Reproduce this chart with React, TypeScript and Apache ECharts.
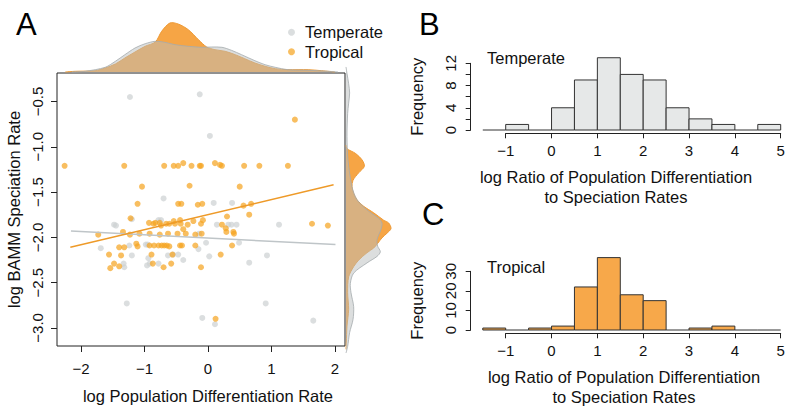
import React, { useEffect, useRef } from 'react';
import * as echarts from 'echarts';

const FONT = "'Liberation Sans', Arial, Helvetica, sans-serif";

// Panel A scatter points [log pop. diff. rate, log BAMM speciation rate]
const temperatePoints: number[][] = [
  [-1.23, -0.45], [-0.13, -0.42], [0.03, -0.88], [-0.70, -1.57], [0.09, -1.62], [0.38, -1.62],
  [-1.48, -1.86], [-1.45, -1.87], [-0.78, -1.81], [-0.74, -1.81], [0.14, -1.86], [0.32, -1.86],
  [0.37, -1.86], [0.45, -1.86], [1.12, -1.86], [-0.14, -1.96], [-1.20, -1.80], [-1.69, -2.12],
  [-1.24, -2.09], [-0.98, -2.08], [-0.95, -2.08], [-1.20, -2.20], [-0.94, -2.23], [-0.63, -2.20],
  [-0.55, -2.19], [-0.47, -2.19], [-0.39, -2.25], [-0.15, -2.13], [-1.33, -2.29], [-1.32, -2.33],
  [-0.96, -2.31], [-0.92, -2.29], [-0.78, -2.29], [-0.03, -2.06], [0.49, -2.06], [0.02, -2.21],
  [0.93, -2.20], [0.65, -2.28], [-1.28, -2.73], [0.91, -2.73], [-0.09, -2.89], [0.11, -2.96],
  [1.66, -2.92],
];

const tropicalPoints: number[][] = [
  [-2.26, -1.21], [-1.32, -1.21], [-0.69, -1.21], [-0.54, -1.21], [-0.47, -1.21], [-0.39, -1.18],
  [-0.26, -1.21], [-0.13, -1.21], [-0.11, -1.21], [0.11, -1.18], [0.19, -1.20], [0.22, -1.21],
  [0.57, -1.21], [0.81, -1.21], [1.26, -1.21], [1.37, -0.70], [-1.04, -1.44], [-0.29, -1.43],
  [0.50, -1.44], [-1.11, -1.63], [-0.47, -1.63], [-0.42, -1.63], [-0.16, -1.64], [-0.09, -1.63],
  [0.56, -1.65], [0.68, -1.63], [0.65, -1.75], [0.30, -1.77], [-1.22, -1.79], [-0.93, -1.84],
  [-0.86, -1.85], [-0.83, -1.84], [-0.76, -1.84], [-0.74, -1.87], [-0.66, -1.85], [-0.61, -1.85],
  [-0.54, -1.82], [-0.52, -1.85], [-0.44, -1.81], [-0.43, -1.85], [-0.32, -1.86], [-0.23, -1.82],
  [-0.11, -1.85], [-0.08, -1.81], [0.22, -1.86], [0.28, -1.90], [0.29, -1.94], [0.40, -1.94],
  [0.41, -1.96], [1.64, -1.85], [1.89, -1.87], [-0.39, -1.91], [-1.34, -1.94], [-1.73, -1.97],
  [-1.23, -1.97], [-1.08, -1.96], [-0.92, -1.96], [-0.76, -1.97], [-0.63, -1.96], [-0.48, -1.96],
  [-0.35, -1.96], [-0.20, -1.97], [-0.10, -1.96], [-1.13, -2.07], [-1.11, -2.10], [-1.40, -2.11],
  [-1.32, -2.11], [-0.92, -2.09], [-0.85, -2.09], [-0.78, -2.09], [-0.73, -2.09], [-0.69, -2.09],
  [-0.65, -2.09], [-0.61, -2.10], [-0.44, -2.09], [-0.41, -2.09], [-0.20, -2.09], [0.38, -2.09],
  [-1.56, -2.19], [-1.37, -2.20], [-0.89, -2.19], [-0.56, -2.19], [0.20, -2.19], [-1.48, -2.29],
  [-1.40, -2.32], [-1.54, -2.34], [-0.87, -2.29], [-0.70, -2.33], [-0.58, -2.29], [-0.11, -2.33],
  [0.12, -2.90],
];

// Fitted regression lines (end points)
const temperateFit: number[][] = [[-2.16, -1.93], [2.01, -2.08]];
const tropicalFit: number[][] = [[-2.17, -2.11], [1.98, -1.42]];

// Top marginal densities (x positions and relative density)
const topTropX = [-2.25, -2.09, -1.78, -1.62, -1.46, -1.31, -1.15, -0.99, -0.83, -0.73, -0.60, -0.47, -0.31, -0.15, -0.02, 0.11, 0.27, 0.43, 0.58, 0.74, 0.90, 1.06, 1.26, 1.58, 1.79, 2.00];
const topTropD = [0, 0.014, 0.026, 0.08, 0.16, 0.28, 0.40, 0.514, 0.60, 0.814, 0.98, 0.96, 0.846, 0.646, 0.50, 0.446, 0.414, 0.346, 0.266, 0.18, 0.114, 0.066, 0.046, 0.046, 0.026, 0];
const topTempX = [-2.15, -1.94, -1.62, -1.46, -1.31, -1.15, -0.99, -0.83, -0.68, -0.52, -0.31, -0.10, 0.06, 0.22, 0.37, 0.53, 0.74, 0.90, 1.06, 1.26, 1.58, 1.89, 2.05];
const topTempD = [0, 0.014, 0.094, 0.214, 0.346, 0.48, 0.566, 0.614, 0.594, 0.546, 0.514, 0.494, 0.5, 0.494, 0.434, 0.346, 0.226, 0.146, 0.094, 0.046, 0.034, 0.014, 0];

// Right marginal densities (y positions and relative density)
const rightTropY = [-0.96, -1.00, -1.05, -1.12, -1.19, -1.26, -1.34, -1.41, -1.48, -1.55, -1.62, -1.69, -1.77, -1.80, -1.86, -1.91, -1.96, -2.02, -2.07, -2.12, -2.20, -2.27, -2.38, -2.55, -2.73, -2.91, -3.09, -3.16];
const rightTropD = [0, 0.02, 0.187, 0.32, 0.367, 0.253, 0.14, 0.12, 0.153, 0.22, 0.353, 0.553, 0.753, 0.853, 0.90, 0.82, 0.72, 0.633, 0.553, 0.42, 0.253, 0.153, 0.053, 0.033, 0.053, 0.02, 0.006, 0];
const rightTempY = [-0.12, -0.19, -0.30, -0.40, -0.51, -0.62, -0.87, -1.12, -1.41, -1.55, -1.66, -1.75, -1.80, -1.87, -1.98, -2.05, -2.11, -2.16, -2.23, -2.34, -2.45, -2.55, -2.70, -2.84, -2.98, -3.13, -3.20];
const rightTempD = [0, 0.02, 0.053, 0.073, 0.053, 0.033, 0.02, 0.04, 0.12, 0.22, 0.42, 0.653, 0.72, 0.70, 0.62, 0.633, 0.687, 0.62, 0.42, 0.153, 0.087, 0.10, 0.153, 0.14, 0.073, 0.033, 0];

// Histograms (panels B and C)
const binStarts = [-1.5, -1, -0.5, 0, 0.5, 1, 1.5, 2, 2.5, 3, 3.5, 4, 4.5];
const binWidth = 0.5;
const temperateCounts = [0, 1, 0, 4, 9, 13, 10, 9, 4, 2, 1, 0, 1];
const tropicalCounts = [1, 0, 1, 2, 22, 37, 18, 15, 0, 1, 2, 0, 0];

const scatterXTicks = [-2, -1, 0, 1, 2];
const scatterYTicks = [-3, -2.5, -2, -1.5, -1, -0.5];

const minus = (s: string) => s.replace('-', '\u2212');

const C_ORANGE_PT = 'rgba(245,163,30,0.88)';
const C_GRAY_PT = 'rgba(205,209,211,0.9)';

function densityRender(curve: number[][], base: number[][], fill: string, stroke: string) {
  return (_params: any, api: any) => {
    const c = curve.map((p) => api.coord(p));
    const poly = [api.coord(base[0]), ...c, api.coord(base[1])];
    return {
      type: 'group',
      children: [
        { type: 'polygon', shape: { points: poly, smooth: 0.3 }, style: { fill, stroke: 'none' } },
        { type: 'polyline', shape: { points: c, smooth: 0.3 }, style: { fill: 'none', stroke, lineWidth: 1 } },
      ],
    };
  };
}

function histRender(fill: string) {
  return (_params: any, api: any) => {
    const lo = api.value(0);
    const hi = api.value(1);
    const c = api.value(2);
    const p0 = api.coord([lo, 0]);
    const p1 = api.coord([hi, c]);
    if (c === 0) {
      return {
        type: 'line',
        shape: { x1: p0[0], y1: p0[1], x2: p1[0], y2: p0[1] },
        style: { stroke: '#333', lineWidth: 1 },
      };
    }
    return {
      type: 'rect',
      shape: { x: p0[0], y: p1[1], width: p1[0] - p0[0], height: p0[1] - p1[1] },
      style: { fill, stroke: '#333', lineWidth: 1 },
    };
  };
}

export default function App() {
  const ref = useRef<HTMLDivElement>(null);
  useEffect(() => {
    if (!ref.current) return;
    const chart = echarts.init(ref.current, undefined, { renderer: 'svg' });

    const topTrop = topTropX.map((x, i) => [x, topTropD[i]]);
    const topTemp = topTempX.map((x, i) => [x, topTempD[i]]);
    const rightTrop = rightTropY.map((y, i) => [rightTropD[i], y]);
    const rightTemp = rightTempY.map((y, i) => [rightTempD[i], y]);

    const txt = { color: '#111', fontFamily: FONT };
    const hiddenAxis = { show: false };

    const histX = (gi: number) => ({
      gridIndex: gi, type: 'value', min: -1, max: 5, interval: 1, offset: 3.3,
      axisLine: { show: true, onZero: false, lineStyle: { color: '#222', width: 1 } },
      axisTick: { show: true, length: 5, lineStyle: { color: '#222' } },
      axisLabel: { ...txt, fontSize: 15, margin: 10, formatter: (v: number) => minus(String(v)) },
      splitLine: { show: false },
    });
    const histY = (gi: number, max: number, interval: number, labelEvery: number) => ({
      gridIndex: gi, type: 'value', min: 0, max, interval, offset: 35,
      axisLine: { show: true, onZero: false, lineStyle: { color: '#222', width: 1 } },
      axisTick: { show: true, length: 5, lineStyle: { color: '#222' } },
      axisLabel: { ...txt, fontSize: 15, margin: 13, rotate: 90, formatter: (v: number) => (v % labelEvery === 0 ? String(v) : '') },
      splitLine: { show: false },
      name: 'Frequency', nameLocation: 'middle', nameGap: 45, nameRotate: 90,
      nameTextStyle: { ...txt, fontSize: 16.5 },
    });

    const letter = (t: string, x: number, y: number) => ({
      type: 'text', x, y,
      style: { text: t, fontSize: 31, fontFamily: FONT, fill: '#000', textAlign: 'left', textVerticalAlign: 'middle', align: 'left', verticalAlign: 'middle' },
    });
    const label = (t: string, x: number, y: number, align: string) => ({
      type: 'text', x, y,
      style: { text: t, fontSize: 16.5, lineHeight: 20.3, fontFamily: FONT, fill: '#111', textAlign: align, textVerticalAlign: 'middle', align, verticalAlign: 'middle' },
    });

    chart.setOption({
      animation: false,
      backgroundColor: '#fff',
      textStyle: { fontFamily: FONT },
      legend: {
        data: ['Temperate', 'Tropical'], orient: 'vertical', left: 288, top: 22.8, padding: 0,
        itemWidth: 7, itemHeight: 7, itemGap: 0.4, icon: 'circle', selectedMode: false,
        textStyle: { ...txt, fontSize: 16.5, lineHeight: 19, padding: [0, 0, 0, 5] },
      },
      grid: [
        { left: 57, top: 73, width: 288, height: 280, show: true, borderColor: '#222', borderWidth: 1, backgroundColor: 'transparent' },
        { left: 57, top: 22, width: 288, height: 50 },
        { left: 346, top: 73, width: 50, height: 280 },
        { left: 505.7, top: 63.3, width: 275, height: 66.7 },
        { left: 505.7, top: 271.3, width: 275, height: 58.7 },
      ],
      xAxis: [
        {
          gridIndex: 0, type: 'value', min: -2.38, max: 2.16,
          axisLine: { show: false, onZero: false },
          axisTick: { show: true, length: 6, customValues: scatterXTicks, lineStyle: { color: '#222' } },
          axisLabel: { ...txt, fontSize: 15, margin: 15, customValues: scatterXTicks, formatter: (v: number) => minus(String(v)) },
          splitLine: { show: false },
          name: 'log Population Differentiation Rate', nameLocation: 'middle', nameGap: 41,
          nameTextStyle: { ...txt, fontSize: 16.5, padding: [0, 0, 0, 14] },
        },
        { gridIndex: 1, type: 'value', min: -2.38, max: 2.16, ...hiddenAxis },
        { gridIndex: 2, type: 'value', min: 0, max: 1, ...hiddenAxis },
        histX(3),
        histX(4),
      ],
      yAxis: [
        {
          gridIndex: 0, type: 'value', min: -3.2, max: -0.185,
          axisLine: { show: false, onZero: false },
          axisTick: { show: true, length: 6, customValues: scatterYTicks, lineStyle: { color: '#222' } },
          axisLabel: { ...txt, fontSize: 15, margin: 12, rotate: 90, customValues: scatterYTicks, formatter: (v: number) => minus(v.toFixed(1)) },
          splitLine: { show: false },
          name: 'log BAMM Speciation Rate', nameLocation: 'middle', nameGap: 35, nameRotate: 90,
          nameTextStyle: { ...txt, fontSize: 16.5 },
        },
        { gridIndex: 1, type: 'value', min: 0, max: 1, ...hiddenAxis },
        { gridIndex: 2, type: 'value', min: -3.2, max: -0.185, ...hiddenAxis },
        histY(3, 12, 2, 4),
        histY(4, 30, 10, 10),
      ],
      series: [
        {
          name: 'Temperate', type: 'scatter', xAxisIndex: 0, yAxisIndex: 0, data: temperatePoints,
          symbolSize: 6, itemStyle: { color: C_GRAY_PT }, z: 2,
        },
        {
          name: 'Tropical', type: 'scatter', xAxisIndex: 0, yAxisIndex: 0, data: tropicalPoints,
          symbolSize: 6, itemStyle: { color: C_ORANGE_PT }, z: 3,
        },
        {
          name: 'temperateFit', type: 'line', xAxisIndex: 0, yAxisIndex: 0, data: temperateFit,
          showSymbol: false, symbol: 'none', lineStyle: { color: '#BFC5C8', width: 1.5 }, z: 4,
        },
        {
          name: 'tropicalFit', type: 'line', xAxisIndex: 0, yAxisIndex: 0, data: tropicalFit,
          showSymbol: false, symbol: 'none', lineStyle: { color: '#EE9A28', width: 1.5 }, z: 5,
        },
        {
          name: 'topTrop', type: 'custom', xAxisIndex: 1, yAxisIndex: 1, data: [[0, 0.5]],
          renderItem: densityRender(topTrop, [[topTropX[0], 0], [topTropX[topTropX.length - 1], 0]], '#F6A545', '#EE9A35'), z: 2,
        },
        {
          name: 'topTemp', type: 'custom', xAxisIndex: 1, yAxisIndex: 1, data: [[0, 0.5]],
          renderItem: densityRender(topTemp, [[topTempX[0], 0], [topTempX[topTempX.length - 1], 0]], 'rgba(185,189,189,0.5)', 'rgba(165,171,174,0.8)'), z: 3,
        },
        {
          name: 'rightTrop', type: 'custom', xAxisIndex: 2, yAxisIndex: 2, data: [[0.5, -2]],
          renderItem: densityRender(rightTrop, [[0, rightTropY[0]], [0, rightTropY[rightTropY.length - 1]]], '#F6A545', '#EE9A35'), z: 2,
        },
        {
          name: 'rightTemp', type: 'custom', xAxisIndex: 2, yAxisIndex: 2, data: [[0.5, -2]],
          renderItem: densityRender(rightTemp, [[0, rightTempY[0]], [0, rightTempY[rightTempY.length - 1]]], 'rgba(185,189,189,0.5)', 'rgba(165,171,174,0.8)'), z: 3,
        },
        {
          name: 'histTemperate', type: 'custom', xAxisIndex: 3, yAxisIndex: 3,
          data: binStarts.map((b, i) => [b, b + binWidth, temperateCounts[i]]),
          encode: { x: [0, 1], y: 2 },
          renderItem: histRender('#E6E8E8'),
        },
        {
          name: 'histTropical', type: 'custom', xAxisIndex: 4, yAxisIndex: 4,
          data: binStarts.map((b, i) => [b, b + binWidth, tropicalCounts[i]]),
          encode: { x: [0, 1], y: 2 },
          renderItem: histRender('#F7A84A'),
        },
      ],
      graphic: [
        letter('A', 16, 24),
        letter('B', 419, 24),
        letter('C', 422, 214),
        label('Temperate', 487, 58, 'left'),
        label('Tropical', 487, 266.7, 'left'),
        label('log Ratio of Population Differentiation\nto Speciation Rates', 616, 187, 'center'),
        label('log Ratio of Population Differentiation\nto Speciation Rates', 624, 386.7, 'center'),
      ],
    });
    return () => chart.dispose();
  }, []);
  return <div ref={ref} style={{ position: 'fixed', left: 0, top: 0, width: 796, height: 409 }} />;
}
